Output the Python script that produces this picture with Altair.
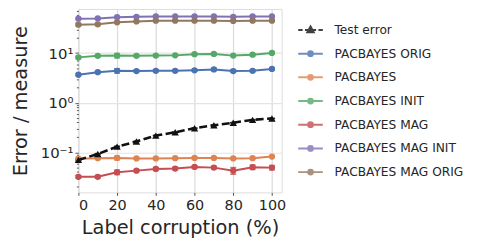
import altair as alt
import pandas as pd

x_vals = [0, 10, 20, 30, 40, 50, 60, 70, 80, 90, 100]

series_names = ["Test error", "PACBAYES ORIG", "PACBAYES", "PACBAYES INIT",
                "PACBAYES MAG", "PACBAYES MAG INIT", "PACBAYES MAG ORIG"]
series_colors = ["#111111", "#4c72b0", "#dd8452", "#55a868", "#c44e52", "#8172b3", "#937860"]

test_error = [0.070, 0.092, 0.130, 0.165, 0.217, 0.253, 0.305, 0.350, 0.394, 0.450, 0.480]
pb_orig = [3.66, 4.13, 4.40, 4.35, 4.40, 4.40, 4.50, 4.68, 4.35, 4.40, 4.80]
pb = [0.074, 0.076, 0.077, 0.075, 0.075, 0.076, 0.077, 0.077, 0.075, 0.076, 0.082]
pb_init = [8.2, 8.8, 8.9, 8.8, 8.9, 9.0, 9.5, 9.6, 8.9, 9.3, 10.1]
pb_mag = [0.032, 0.032, 0.0395, 0.0426, 0.046, 0.047, 0.0505, 0.049, 0.0426, 0.050, 0.049]
pb_mag_init = [49.4, 50.0, 53.0, 54.0, 55.0, 55.0, 55.0, 55.0, 54.0, 55.0, 55.0]
pb_mag_orig = [37.4, 38.0, 41.7, 43.6, 45.0, 45.0, 45.0, 45.0, 44.5, 45.0, 45.0]

err_test = [0.002, 0.002, 0.003, 0.003, 0.003, 0.003, 0.004, 0.004, 0.004, 0.004, 0.004]
err_orig = [0.15, 0.2, 0.45, 0.25, 0.2, 0.2, 0.2, 0.25, 0.25, 0.2, 0.2]
err_pb = [0.003, 0.003, 0.007, 0.003, 0.003, 0.002, 0.003, 0.003, 0.003, 0.003, 0.003]
err_init = [0.4, 0.5, 0.9, 0.5, 0.4, 0.4, 0.4, 0.5, 0.4, 0.4, 0.4]
err_mag = [0.002, 0.002, 0.004, 0.002, 0.003, 0.003, 0.003, 0.003, 0.0065, 0.005, 0.005]
err_mag_init = [1.5, 1.5, 1.5, 1.5, 1.5, 1.5, 1.5, 1.5, 1.5, 1.5, 1.5]
err_mag_orig = [2.0, 2.0, 2.0, 1.5, 1.5, 1.5, 1.5, 1.5, 1.5, 1.5, 1.5]

values = [test_error, pb_orig, pb, pb_init, pb_mag, pb_mag_init, pb_mag_orig]
errors = [err_test, err_orig, err_pb, err_init, err_mag, err_mag_init, err_mag_orig]

rows = []
for name, col, vals, errs in zip(series_names, series_colors, values, errors):
    for xv, v, e in zip(x_vals, vals, errs):
        rows.append({"x": xv, "y": v, "lo": v - e, "hi": v + e, "series": name, "col": col})
df = pd.DataFrame(rows)

# legend symbol shapes: line + marker
circle_path = "M-3.1,0L3.1,0M-0.6,0A0.6,0.6,0,1,1,0.6,0A0.6,0.6,0,1,1,-0.6,0Z"
tri_path = "M-3.1,0L-2.0,0M-1.4,0L1.4,0M2.0,0L3.1,0M0,-0.85L0.8,0.6L-0.8,0.6Z"
legend_shapes = [tri_path] + [circle_path] * 6

FONT = "DejaVu Sans"
TXT = "#262626"

y_domain = [0.0155, 77.6]
minor = [0.02, 0.03, 0.04, 0.05, 0.06, 0.07, 0.08, 0.09, 0.1,
         0.2, 0.3, 0.4, 0.5, 0.6, 0.7, 0.8, 0.9, 1,
         2, 3, 4, 5, 6, 7, 8, 9, 10, 20, 30, 40, 50, 60, 70]

is_major = "datum.value == 0.1 || datum.value == 1 || datum.value == 10"

xscale = alt.Scale(domain=[0, 105], nice=False, zero=False)
yscale = alt.Scale(type="log", domain=y_domain, nice=False)

x_axis = alt.Axis(values=[0, 20, 40, 60, 80, 100], title="Label corruption (%)",
                  grid=True, gridColor="#dddddd", gridWidth=1.3,
                  tickSize=3, tickColor="#555555", domain=False,
                  labelFontSize=14.5, labelFont=FONT, labelColor=TXT, labelPadding=3,
                  titleFontSize=19.5, titleFont=FONT, titleColor=TXT,
                  titleFontWeight="normal", titlePadding=7)
y_axis = alt.Axis(values=minor, title="Error / measure",
                  grid=True, gridColor="#e4e4e4", gridWidth=1.1,
                  gridOpacity={"condition": {"test": is_major, "value": 1}, "value": 0},
                  tickSize={"condition": {"test": is_major, "value": 3.5}, "value": 2},
                  tickColor="#555555", domain=False,
                  labelExpr="datum.value == 10 ? '10¹' : datum.value == 1 ? '10⁰' : datum.value == 0.1 ? '10⁻¹' : ''",
                  labelFontSize=15, labelFont=FONT, labelColor=TXT, labelPadding=2,
                  titleFontSize=19.5, titleFont=FONT, titleColor=TXT,
                  titleFontWeight="normal", titlePadding=10)

base = alt.Chart(df)
col_enc = alt.Color("col:N", scale=None)

err_rule = base.mark_rule(strokeWidth=1.5, opacity=0.8).encode(
    x=alt.X("x:Q", scale=xscale, axis=x_axis),
    y=alt.Y("lo:Q", scale=yscale, axis=y_axis),
    y2="hi:Q",
    color=col_enc,
)
cap_lo = base.mark_tick(orient="horizontal", size=6, thickness=1.5, opacity=0.8).encode(
    x=alt.X("x:Q", scale=xscale), y=alt.Y("lo:Q", scale=yscale), color=col_enc,
)
cap_hi = base.mark_tick(orient="horizontal", size=6, thickness=1.5, opacity=0.8).encode(
    x=alt.X("x:Q", scale=xscale), y=alt.Y("hi:Q", scale=yscale), color=col_enc,
)

others = base.transform_filter("datum.series != 'Test error'")
lines = others.mark_line(strokeWidth=2).encode(
    x=alt.X("x:Q", scale=xscale), y=alt.Y("y:Q", scale=yscale),
    color=col_enc, detail="series:N",
)
pts = others.mark_point(filled=True, size=40, opacity=1).encode(
    x=alt.X("x:Q", scale=xscale), y=alt.Y("y:Q", scale=yscale), color=col_enc,
)

test = base.transform_filter("datum.series == 'Test error'")
test_line = test.mark_line(strokeWidth=2.6, strokeDash=[8, 3.5], color="#111111").encode(
    x=alt.X("x:Q", scale=xscale), y=alt.Y("y:Q", scale=yscale),
)
test_pts = test.mark_point(filled=True, shape="triangle-up", size=55, opacity=1,
                           color="#111111").encode(
    x=alt.X("x:Q", scale=xscale), y=alt.Y("y:Q", scale=yscale),
)

leg = alt.Legend(orient="none", legendX=228, legendY=15,
                 padding=0, rowPadding=9.9, labelOffset=18,
                 symbolSize=64, symbolStrokeWidth=2,
                 labelFont=FONT, labelFontSize=12.3,
                 labelColor=TXT, labelLimit=300, title=None)

legend_layer = base.transform_filter("datum.x > 1000").mark_point(
    filled=False, strokeWidth=2, opacity=1).encode(
    x=alt.X("x:Q", scale=xscale), y=alt.Y("y:Q", scale=yscale),
    color=alt.Color("series:N", scale=alt.Scale(domain=series_names, range=series_colors),
                    legend=leg),
    fill=alt.Fill("series:N", scale=alt.Scale(domain=series_names, range=series_colors),
                  legend=leg),
    shape=alt.Shape("series:N", scale=alt.Scale(domain=series_names, range=legend_shapes),
                    legend=leg),
)

chart = alt.layer(err_rule, cap_lo, cap_hi, lines, pts, test_line, test_pts, legend_layer).properties(
    width=205, height=185,
    autosize="none",
    padding={"left": 71, "top": 0, "right": 190, "bottom": 45},
).configure_view(stroke="#d2d2d2", strokeWidth=1.2).configure(background="white")

chart.save("out.html", embed_options={"renderer": "svg", "actions": False})
